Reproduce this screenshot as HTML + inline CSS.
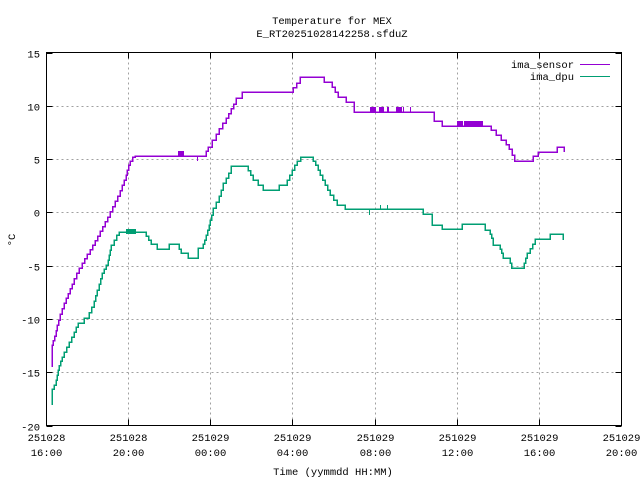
<!DOCTYPE html>
<html><head><meta charset="utf-8"><style>
html,body{margin:0;padding:0;background:#fff;}
svg text{font-family:"Liberation Mono","DejaVu Sans Mono",monospace;font-size:10.5px;fill:#000;}
</style></head><body>
<svg id="s" width="640" height="480" xmlns="http://www.w3.org/2000/svg" shape-rendering="crispEdges">
<g id="grid" stroke="#a0a0a0" stroke-width="1" stroke-dasharray="2,3"></g>
<g id="ticks" stroke="#000" stroke-width="1"></g>
<rect x="46.5" y="52.5" width="575" height="373" fill="none" stroke="#000" stroke-width="1"/>
<g id="labels"></g>
<text x="332" y="24" text-anchor="middle">Temperature for MEX</text>
<text x="332" y="37" text-anchor="middle">E_RT20251028142258.sfduZ</text>
<text x="333" y="475" text-anchor="middle">Time (yymmdd HH:MM)</text>
<text x="0" y="0" text-anchor="middle" transform="translate(15,240) rotate(-90)">°C</text>
<text x="574" y="68" text-anchor="end">ima_sensor</text>
<text x="574" y="80" text-anchor="end">ima_dpu</text>
<line x1="580" y1="64.5" x2="610" y2="64.5" stroke="#9400d3" stroke-width="1.2"/>
<line x1="580" y1="76.5" x2="610" y2="76.5" stroke="#009e73" stroke-width="1.2"/>
<path id="p1" fill="none" stroke="#9400d3" stroke-width="1.5"/>
<path id="p2" fill="none" stroke="#009e73" stroke-width="1.5"/>
<g id="noise1" stroke="#9400d3" stroke-width="1.3"></g>
<g id="noise2" stroke="#009e73" stroke-width="1.3"></g>
</svg>
<script>
var NS="http://www.w3.org/2000/svg";
function el(p,t,a,txt){var e=document.createElementNS(NS,t);for(var k in a)e.setAttribute(k,a[k]);if(txt)e.textContent=txt;document.getElementById(p).appendChild(e);return e;}
var L=46.5,R=621.5,T=52.5,B=425.5;
var xl=[["251028","16:00"],["251028","20:00"],["251029","00:00"],["251029","04:00"],["251029","08:00"],["251029","12:00"],["251029","16:00"],["251029","20:00"]];
for(var i=0;i<8;i++){var x=Math.round(46+i*575/7)+0.5;
 if(i>0&&i<7)el("grid","line",{x1:x,y1:T,x2:x,y2:B});
 el("ticks","line",{x1:x,y1:B,x2:x,y2:B-6});el("ticks","line",{x1:x,y1:T,x2:x,y2:T+6});
 el("labels","text",{x:x,y:441,"text-anchor":"middle"},xl[i][0]);
 el("labels","text",{x:x,y:456,"text-anchor":"middle"},xl[i][1]);}
for(var v=15;v>=-20;v-=5){var y=Math.round(52.5+(15-v)*373/35)+0.5;
 if(v<15&&v>-20)el("grid","line",{x1:L,y1:y,x2:R,y2:y});
 el("ticks","line",{x1:L,y1:y,x2:L+6,y2:y});el("ticks","line",{x1:R,y1:y,x2:R-6,y2:y});
 el("labels","text",{x:40,y:y+4,"text-anchor":"end"},String(v));}
function stepPath(pts){var d="M"+pts[0][0]+" "+pts[0][1];var cx=pts[0][0],cy=pts[0][1];
 for(var i=1;i<pts.length;i++){var nx=pts[i][0],ny=pts[i][1];var dy=ny-cy,dx=nx-cx;
  var n=Math.max(1,Math.round(Math.abs(dy)/5));if(dx<=0)n=1;
  for(var k=1;k<=n;k++){var x=cx+dx*k/n,y=cy+dy*k/n;d+=" V"+y.toFixed(1)+" H"+x.toFixed(1);}
  cx=nx;cy=ny;}return d;}
var p1=[[52,367],[52,350],[56,336],[60,320],[66,303],[74,284],[82,268],[90,254],[100,236],[110,217],[120,196],[126,180],[130,165],[135,157],[142,156],[206,156],[208,151],[212,147],[216,140],[226,123],[236,104],[242,98],[247,92],[293,92],[300,83],[305,77],[324,77],[332,82],[338,92],[346,97],[354,102],[354,112],[434,112],[434,117],[442,121],[457,126],[491,126],[496,130],[506,140],[512,149],[517,161],[533,161],[538,156],[542,152],[557,152],[557,147],[564,147],[564,152]];
var p2=[[52,405],[52,393],[56,385],[59,370],[64,357],[69,347],[74,337],[78,327],[84,323],[89,318],[94,307],[99,290],[104,273],[108,265],[111,250],[114,245],[119,235],[126,232],[146,232],[151,240],[157,244],[157,249],[169,249],[169,244],[179,244],[181,249],[188,253],[192,258],[198,258],[198,253],[203,248],[206,240],[209,230],[213,215],[216,208],[219,202],[223,190],[226,183],[231,173],[236,166],[248,166],[253,175],[263,185],[269,190],[279,190],[279,185],[287,185],[292,175],[297,165],[304,157],[313,157],[318,165],[325,180],[330,190],[337,200],[345,205],[345,209],[423,209],[423,214],[432,214],[432,219],[442,225],[442,229],[462,229],[462,224],[485,224],[490,230],[493,238],[500,245],[503,253],[510,258],[513,268],[524,268],[527,258],[530,253],[535,244],[539,239],[550,239],[550,234],[563,234],[563,239],[564,239]];
document.getElementById("p1").setAttribute("d",stepPath(p1));
document.getElementById("p2").setAttribute("d",stepPath(p2));
function spikes(g,xs,y1,y2){xs.forEach(function(x){el(g,"line",{x1:x+0.5,y1:y1,x2:x+0.5,y2:y2});});}
spikes("noise1",[178,179,180,181,182,183],151,156);
spikes("noise1",[197],156,161);
spikes("noise1",[370,371,372,373,374,375,379,380,381,382,383,387,388,396,397,398,399,400,401,403,410],107,112);
spikes("noise1",[457,458,459,460,461,462,464,465,466,467,468,469,470,471,472,473,474,475,476,477,478,479,480,481,482],121,126);
spikes("noise2",[126,127,128,129,130,131,132,133,134,135],229,234);
spikes("noise2",[369],209,215);spikes("noise2",[380,387],205,209);
</script>
</body></html>
